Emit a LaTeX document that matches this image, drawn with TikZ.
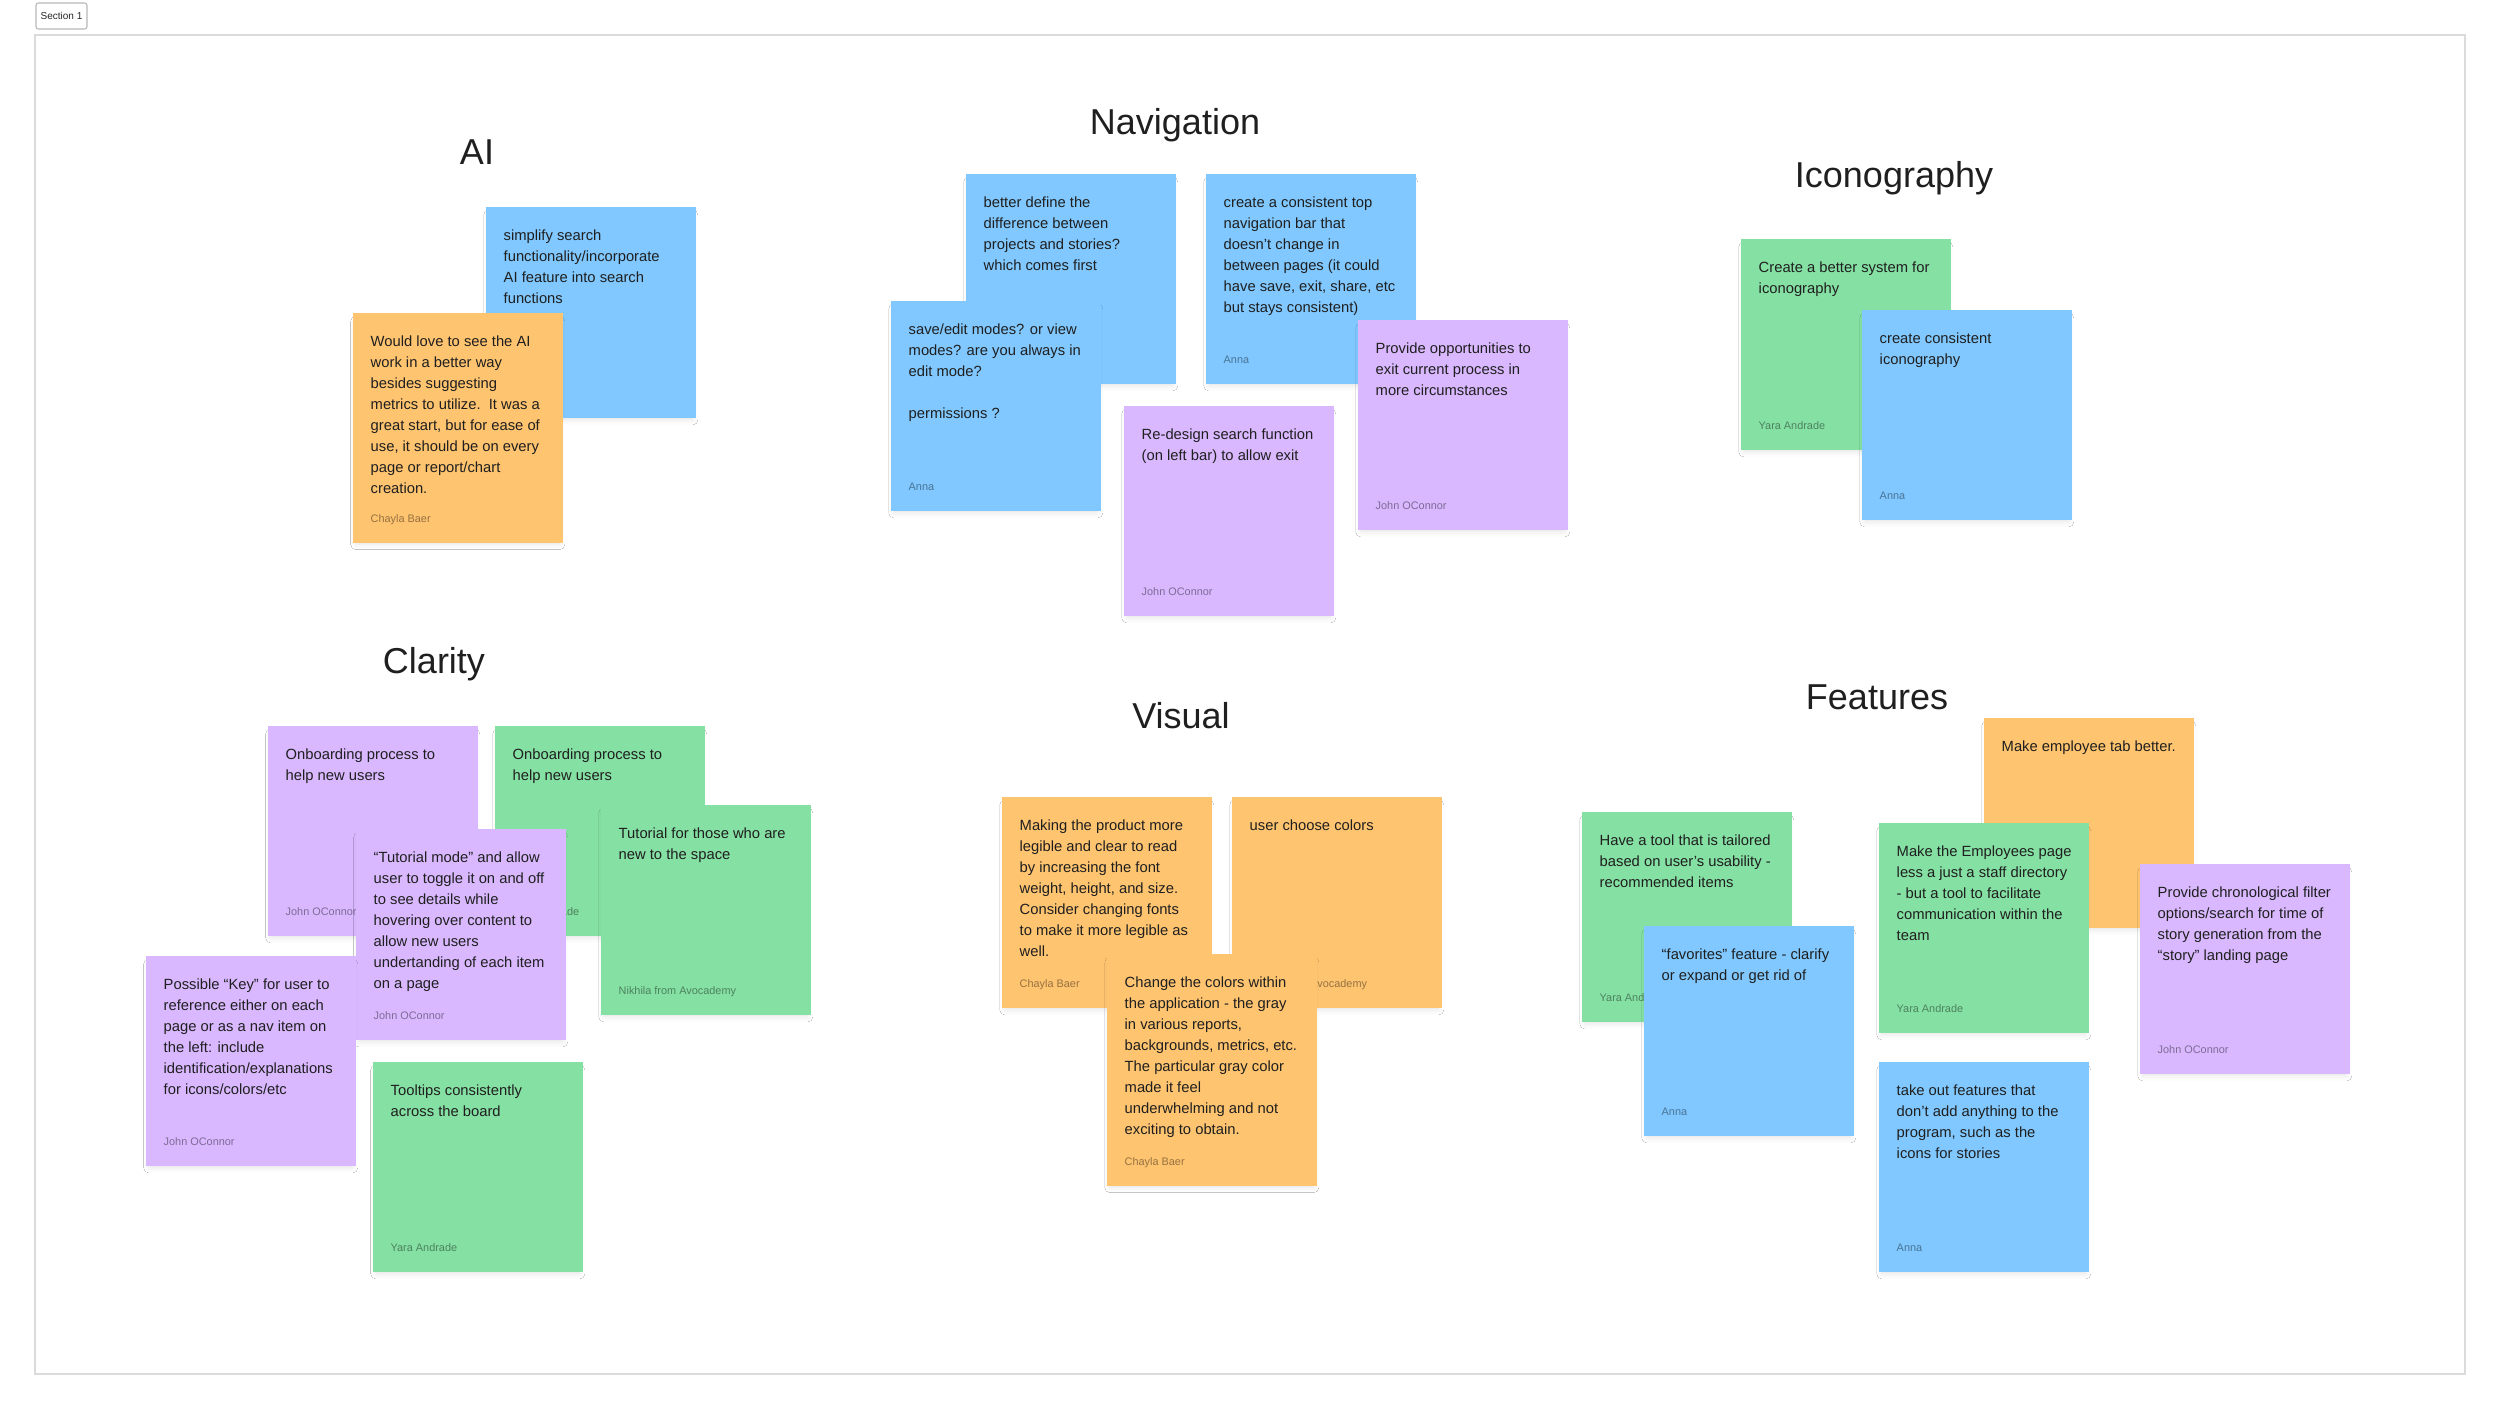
\documentclass[tikz,border=0pt]{standalone}
\usepackage{fontspec}
\setmainfont{Liberation Sans}
\usetikzlibrary{shadows.blur}
\definecolor{noteblue}{HTML}{80C8FF}
\definecolor{noteorange}{HTML}{FFC470}
\definecolor{notepurple}{HTML}{D9B8FF}
\definecolor{notegreen}{HTML}{85E0A3}
\newcommand\sticky[7]{%
  \node[card,fill=#2,minimum height=#5cm] (#1) at (#3,#4) {};
  \node[body] at ([shift={(18,34)}]#1.north west) {\parbox[t]{2.5cm}{\raggedright #6}};
  \node[who] at ([shift={(18,-21)}]#1.south west) {#7};}

\begin{document}
\begin{tikzpicture}[x=0.01cm,y=-0.01cm,
  card/.style={anchor=north west,inner sep=0,minimum width=2.1cm,
    blur shadow={shadow xshift=0pt,shadow yshift=-1.5pt,shadow scale=0.97,shadow blur radius=1.5pt,shadow opacity=10}},
  body/.style={anchor=base west,inner sep=0,text=black!88,font=\fontsize{4.2}{5.975}\selectfont},
  who/.style={anchor=base west,inner sep=0,text=black,text opacity=0.42,font=\fontsize{3.1}{3.7}\selectfont},
  head/.style={anchor=base,inner sep=0,text=black!88,font=\fontsize{10.24}{12}\selectfont},
  tag/.style={draw=black!28,fill=white,rounded corners=0.7pt,line width=0.3pt,inner sep=0,
    minimum width=0.51cm,minimum height=0.26cm,text=black!85,font=\fontsize{2.85}{3.4}\selectfont}]
\fill[white] (0,0) rectangle (2500,1409);
\useasboundingbox (0,0) rectangle (2500,1409);
\draw[black!14,line width=0.5pt] (35,35) rectangle (2465,1374);
\node[tag] (sec) at (61.5,16) {Section 1};
\foreach \n/\x/\y/\t in {ai/477/164/AI,nav/1175/134/Navigation,icon/1894/187/Iconography,
  clar/434/673/Clarity,vis/1181/728/Visual,feat/1877/709/Features}
  \node[head] (h\n) at (\x,\y) {\t};

\sticky{ai1}{noteblue}{485}{206}{2.11}{simplify search\\functionality/incorporate\\AI feature into search\\functions}{}
\sticky{ai2}{noteorange}{352}{312}{2.30}{Would love to see the AI\\work in a better way\\besides suggesting\\metrics to utilize.\ \ It was a\\great start, but for ease of\\use, it should be on every\\page or report/chart\\creation.}{Chayla Baer}

\sticky{nav1}{noteblue}{965}{173}{2.10}{better define the\\difference between\\projects and stories?\\which comes first}{}
\sticky{nav2}{noteblue}{890}{300}{2.10}{save/edit modes? or view\\modes? are you always in\\edit mode?\\[5.975pt]permissions ?}{Anna}
\sticky{nav3}{noteblue}{1205}{173}{2.10}{create a consistent top\\navigation bar that\\doesn’t change in\\between pages (it could\\have save, exit, share, etc\\but stays consistent)}{Anna}
\sticky{nav4}{notepurple}{1357}{319}{2.10}{Provide opportunities to\\exit current process in\\more circumstances}{John OConnor}
\sticky{nav5}{notepurple}{1123}{405}{2.10}{Re-design search function\\(on left bar) to allow exit}{John OConnor}

\sticky{ic1}{notegreen}{1740}{238}{2.11}{Create a better system for\\iconography}{Yara Andrade}
\sticky{ic2}{noteblue}{1861}{309}{2.10}{create consistent\\iconography}{Anna}

\sticky{cl1}{notepurple}{267}{725}{2.10}{Onboarding process to\\help new users}{John OConnor}
\sticky{cl2}{notegreen}{494}{725}{2.10}{Onboarding process to\\help new users}{Yara Andrade}
\sticky{cl3}{notegreen}{600}{804}{2.10}{Tutorial for those who are\\new to the space}{Nikhila from Avocademy}
\sticky{cl4}{notepurple}{355}{828}{2.11}{“Tutorial mode” and allow\\user to toggle it on and off\\to see details while\\hovering over content to\\allow new users\\undertanding of each item\\on a page}{John OConnor}
\sticky{cl5}{notepurple}{145}{955}{2.10}{Possible “Key” for user to\\reference either on each\\page or as a nav item on\\the left: include\\identification/explanations\\for icons/colors/etc}{John OConnor}
\sticky{cl6}{notegreen}{372}{1061}{2.10}{Tooltips consistently\\across the board}{Yara Andrade}

\sticky{vi1}{noteorange}{1001}{796}{2.11}{Making the product more\\legible and clear to read\\by increasing the font\\weight, height, and size.\\Consider changing fonts\\to make it more legible as\\well.}{Chayla Baer}
\sticky{vi2}{noteorange}{1231}{796}{2.11}{user choose colors}{Nikhila from Avocademy}
\sticky{vi3}{noteorange}{1106}{953}{2.32}{Change the colors within\\the application - the gray\\in various reports,\\backgrounds, metrics, etc.\\The particular gray color\\made it feel\\underwhelming and not\\exciting to obtain.}{Chayla Baer}

\sticky{fe1}{noteorange}{1983}{717}{2.10}{Make employee tab better.}{}
\sticky{fe2}{notegreen}{1581}{811}{2.10}{Have a tool that is tailored\\based on user’s usability -\\recommended items}{Yara Andrade}
\sticky{fe3}{noteblue}{1643}{925}{2.10}{“favorites” feature - clarify\\or expand or get rid of}{Anna}
\sticky{fe4}{notegreen}{1878}{822}{2.10}{Make the Employees page\\less a just a staff directory\\- but a tool to facilitate\\communication within the\\team}{Yara Andrade}
\sticky{fe5}{notepurple}{2139}{863}{2.10}{Provide chronological filter\\options/search for time of\\story generation from the\\“story” landing page}{John OConnor}
\sticky{fe6}{noteblue}{1878}{1061}{2.10}{take out features that\\don’t add anything to the\\program, such as the\\icons for stories}{Anna}
\end{tikzpicture}
\end{document}
